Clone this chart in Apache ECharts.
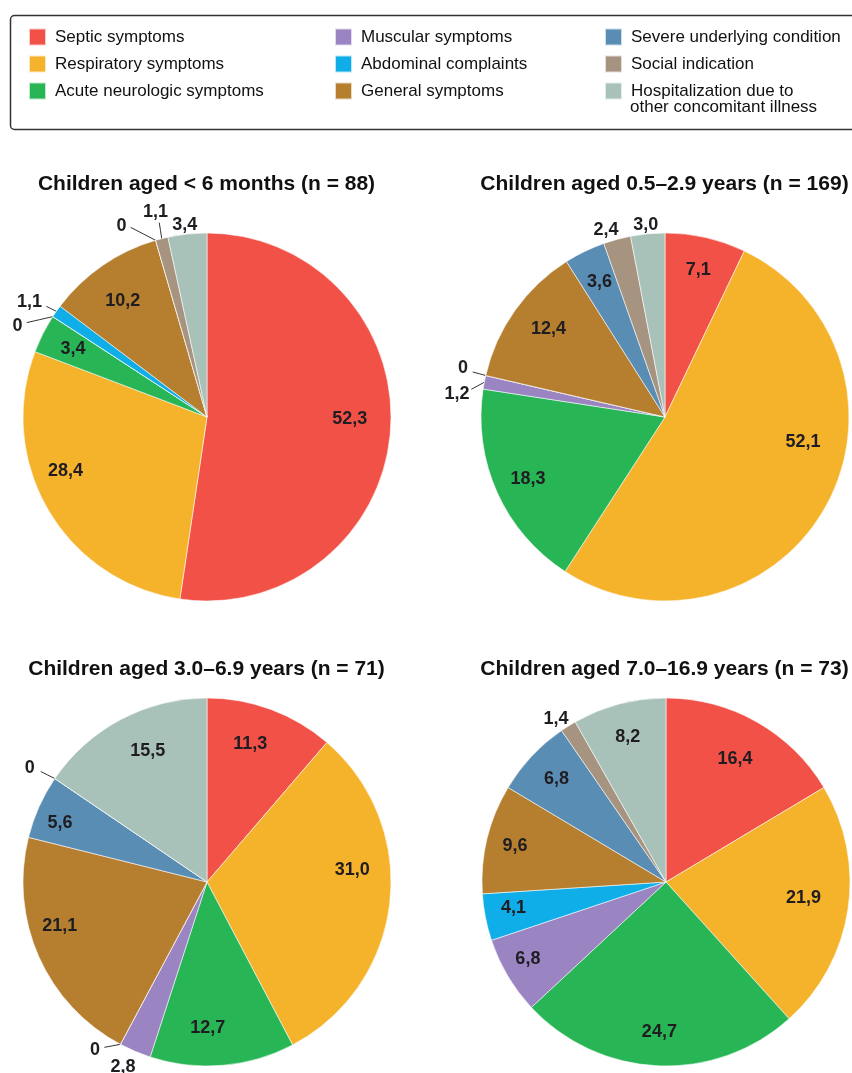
<!DOCTYPE html>
<html>
<head>
<meta charset="utf-8">
<script src="https://cdn.jsdelivr.net/npm/echarts@6/dist/echarts.min.js"></script>
<style>
html,body{margin:0;padding:0;background:#fff;}
#chart{width:852px;height:1073px;}
</style>
</head>
<body>
<div id="chart"></div>
<script>
// ---------- data ----------
const categories = [
  'Septic symptoms',
  'Respiratory symptoms',
  'Acute neurologic symptoms',
  'Muscular symptoms',
  'Abdominal complaints',
  'General symptoms',
  'Severe underlying condition',
  'Social indication',
  'Hospitalization due to other concomitant illness'
];
const chartTitles = [
  'Children aged < 6 months (n = 88)',
  'Children aged 0.5\u20132.9 years (n = 169)',
  'Children aged 3.0\u20136.9 years (n = 71)',
  'Children aged 7.0\u201316.9 years (n = 73)'
];
const pctUnder6m   = [52.3, 28.4, 3.4, 0, 1.1, 10.2, 0, 1.1, 3.4];
const pct05to29    = [7.1, 52.1, 18.3, 1.2, 0, 12.4, 3.6, 2.4, 3.0];
const pct30to69    = [11.3, 31.0, 12.7, 2.8, 0, 21.1, 5.6, 0, 15.5];
const pct70to169   = [16.4, 21.9, 24.7, 6.8, 4.1, 9.6, 6.8, 1.4, 8.2];
const allSeries = [pctUnder6m, pct05to29, pct30to69, pct70to169];

// ---------- style ----------
const colors = ['#F15147', '#F5B22B', '#27B555', '#9A84C2', '#10AEE8', '#B57F2F', '#5A8DB3', '#A69480', '#A9C2B9'];
const R = 184;
const centers = [[207, 417], [665, 417], [207, 882], [666, 882]];
const titlePos = [[206.5, 174], [664.5, 174], [206.5, 659], [664.5, 659]];
// outside labels: index -> [showLine, length, length2, labelDx, labelDy, lineEndDx, lineEndDy]
const outside = [
  {3: [true, 2, 20, -3.6, 10.7, -26, 6], 4: [true, 8, 4, 1.3, -4.5, -10, -5], 6: [true, 10, 18, -3.3, -4.8, -25, -13], 7: [true, 14, 0, 14.8, -13, -2.5, -16], 8: [false, 4, 0, 15.4, -5]},
  {3: [true, 6, 4, 0, 12.7, -13, 7], 4: [true, 6, 4, -3, -6.3, -13, -3.5], 7: [false, 4, 0, 7.4, -5], 8: [false, 4, 0, 16, -4.7]},
  {3: [false, 4, 0, 7, 12], 4: [true, 4, 6, -7.5, 2, -16, 3], 7: [true, 6, 4, -6, -7, -14, -7]},
  {7: [false, 4, 0, 7.3, -3.3]}
];
// nudges for labels placed inside slices: index -> [dx, dy]
const insideNudge = [
  {0: [-7, -9], 1: [-12, -22], 5: [1, 8]},
  {1: [7, -48], 5: [6, -1]},
  {0: [-9, 3], 1: [-4, -29], 2: [-12, -4], 5: [-10, -17], 6: [-10, 2], 8: [11, 2]},
  {0: [-5, 8], 1: [-11, -6], 3: [-9, 0], 4: [-5, -3], 5: [-5, -1]}
];
const fmt = v => v === 0 ? '0' : v.toFixed(1).replace('.', ',');
const labelFont = {fontFamily: 'Liberation Sans, Arial, sans-serif', fontWeight: 'bold', fontSize: 18, color: '#1f1d22'};

const series = [];
allSeries.forEach((vals, ci) => {
  const out = outside[ci];
  const nud = insideNudge[ci];
  // sectors + outside labels
  series.push({
    type: 'pie',
    center: centers[ci],
    radius: [0, R],
    startAngle: 90,
    clockwise: true,
    avoidLabelOverlap: false,
    silent: true,
    animation: false,
    itemStyle: {borderColor: 'rgba(255,255,255,0.7)', borderWidth: 0.8},
    label: {show: false},
    labelLine: {show: false},
    labelLayout: function (p) {
      const o = out[p.dataIndex];
      if (!o) return {};
      const r = p.labelRect;
      const res = {x: r.x + r.width / 2 + o[3], y: r.y + r.height / 2 + o[4], align: 'center', verticalAlign: 'middle'};
      if (o[0] && p.labelLinePoints) {
        const s = p.labelLinePoints[0];
        const e = [s[0] + o[5], s[1] + o[6]];
        res.labelLinePoints = [[s[0], s[1]], [(s[0] + e[0]) / 2, (s[1] + e[1]) / 2], e];
      }
      return res;
    },
    data: vals.map((v, i) => {
      const o = out[i];
      const d = {name: categories[i], value: v, itemStyle: {color: colors[i]}};
      if (o) {
        d.label = Object.assign({show: true, position: 'outside', formatter: p => fmt(p.value), distanceToLabelLine: 5}, labelFont);
        d.labelLine = {show: o[0], length: o[1], length2: o[2], smooth: false, lineStyle: {color: '#333', width: 1}};
      }
      return d;
    })
  });
  // transparent ring carrying the inside labels
  series.push({
    type: 'pie',
    center: centers[ci],
    radius: [R * 0.6, R],
    startAngle: 90,
    clockwise: true,
    silent: true,
    animation: false,
    avoidLabelOverlap: false,
    itemStyle: {color: 'rgba(0,0,0,0)', borderWidth: 0},
    label: Object.assign({show: true, position: 'inside', formatter: p => fmt(p.value)}, labelFont),
    labelLine: {show: false},
    labelLayout: function (p) {
      const n = nud[p.dataIndex];
      return n ? {dx: n[0], dy: n[1]} : {};
    },
    data: vals.map((v, i) => ({name: categories[i], value: v, label: {show: !out[i]}}))
  });
});

const legendText = {fontFamily: 'Liberation Sans, Arial, sans-serif', fontSize: 17, color: '#111', lineHeight: 17, padding: [0, 0, 0, 4]};
const legendCols = [[0, 1, 2], [3, 4, 5], [6, 7, 8]];
const legendLeft = [28, 334, 604];
const legends = legendCols.map((idx, k) => ({
  orient: 'vertical',
  left: legendLeft[k],
  top: 27.5,
  padding: 0,
  itemWidth: 17,
  itemHeight: 17,
  itemGap: 8,
  icon: 'rect',
  selectedMode: false,
  textStyle: legendText,
  formatter: n => n === categories[8] ? 'Hospitalization due to' : n,
  data: idx.map(i => categories[i])
}));

const option = {
  backgroundColor: '#fff',
  animation: false,
  color: colors,
  title: chartTitles.map((t, i) => ({
    text: t,
    left: titlePos[i][0],
    top: titlePos[i][1],
    textAlign: 'center',
    padding: 0,
    textStyle: {fontFamily: 'Liberation Sans, Arial, sans-serif', fontWeight: 'bold', fontSize: 21, color: '#111'}
  })),
  legend: legends,
  graphic: [
    {type: 'rect', left: 8, top: 13, shape: {width: 900, height: 114, r: 4}, style: {fill: 'none', stroke: '#333', lineWidth: 1.5}, z: -1},
    {type: 'text', left: 630, top: 99, style: {text: 'other concomitant illness', font: '17px "Liberation Sans", Arial, sans-serif', fill: '#111'}}
  ],
  series: series
};

const chart = echarts.init(document.getElementById('chart'), null, {renderer: 'canvas'});
chart.setOption(option);
</script>
</body>
</html>
